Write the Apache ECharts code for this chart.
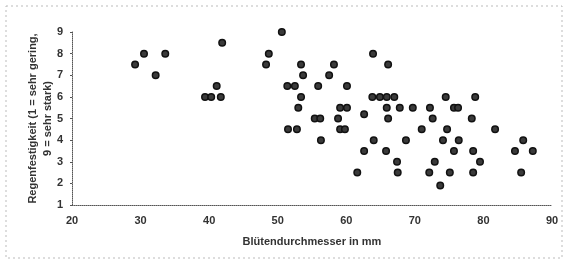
<!DOCTYPE html>
<html>
<head>
<meta charset="utf-8">
<script src="https://cdn.jsdelivr.net/npm/echarts@6/dist/echarts.min.js"></script>
<style>
  html, body { margin: 0; padding: 0; background: #fff; }
  #chart { width: 568px; height: 266px; }
</style>
</head>
<body>
<div id="chart"></div>
<script>
// Blütendurchmesser (mm) und Regenfestigkeit (1-9)
var diameters = [
    30.5, 33.6, 29.2, 32.2, 41.9, 41.1, 39.4, 40.3, 41.7,
    50.6, 48.7, 48.3, 53.4, 58.2, 53.7, 57.5, 51.4, 52.5, 55.9, 60.1,
    53.4, 53.0, 59.1, 60.1, 55.4, 56.2, 58.8, 51.5, 52.8, 59.1, 59.8, 56.3,
    63.9, 66.1, 63.8, 64.9, 65.9, 67.0, 74.5, 78.8,
    65.9, 67.8, 69.7, 72.2, 75.7, 76.3, 62.6, 66.1, 72.6, 78.3,
    71.0, 74.7, 81.7, 64.0, 68.7, 74.1, 76.4, 85.8,
    62.6, 65.8, 75.7, 78.5, 84.6, 87.2, 67.4, 72.9, 79.5,
    61.6, 67.5, 72.1, 75.1, 78.5, 85.5, 73.7
];
var ratings = [
    8, 8, 7.5, 7, 8.5, 6.5, 6, 6, 6,
    9, 8, 7.5, 7.5, 7.5, 7, 7, 6.5, 6.5, 6.5, 6.5,
    6, 5.5, 5.5, 5.5, 5, 5, 5, 4.5, 4.5, 4.5, 4.5, 4,
    8, 7.5, 6, 6, 6, 6, 6, 6,
    5.5, 5.5, 5.5, 5.5, 5.5, 5.5, 5.2, 5, 5, 5,
    4.5, 4.5, 4.5, 4, 4, 4, 4, 4,
    3.5, 3.5, 3.5, 3.5, 3.5, 3.5, 3, 3, 3,
    2.5, 2.5, 2.5, 2.5, 2.5, 2.5, 1.9
];
var xTitle = 'Blütendurchmesser in mm';
var yTitle = 'Regenfestigkeit (1 = sehr gering,\n9 = sehr stark)';

var data = diameters.map(function (d, i) { return [d, ratings[i]]; });

var chart = echarts.init(document.getElementById('chart'));

var option = {
    backgroundColor: '#fff',
    animation: false,
    textStyle: { fontFamily: 'Liberation Sans' },
    graphic: [
        {
            type: 'rect',
            shape: { x: 6, y: 6, width: 556, height: 252 },
            style: { fill: 'none', stroke: '#bbb', lineWidth: 1, lineDash: [2, 3] },
            silent: true
        }
    ],
    grid: { left: 72, right: 16, top: 32, bottom: 61 },
    xAxis: {
        type: 'value',
        min: 20,
        max: 90,
        interval: 10,
        name: xTitle,
        nameLocation: 'middle',
        nameGap: 31,
        nameTextStyle: { color: '#333', fontSize: 11, fontWeight: 'bold' },
        axisLine: { show: true, lineStyle: { color: '#555', type: 'dotted', width: 1 } },
        axisTick: { show: false },
        axisLabel: { color: '#333', fontSize: 11, fontWeight: 'bold', margin: 10 },
        splitLine: { show: false }
    },
    yAxis: {
        type: 'value',
        min: 1,
        max: 9,
        interval: 1,
        name: yTitle,
        nameLocation: 'middle',
        nameGap: 17,
        nameMoveOverlap: false,
        nameTextStyle: { color: '#333', fontSize: 11, fontWeight: 'bold', lineHeight: 15 },
        axisLine: { show: true, lineStyle: { color: '#555', type: 'dotted', width: 1 } },
        axisTick: { show: true, length: 2, lineStyle: { color: '#555' } },
        axisLabel: { color: '#333', fontSize: 11, fontWeight: 'bold', margin: 9 },
        splitLine: { show: false }
    },
    series: [
        {
            type: 'scatter',
            data: data,
            symbol: 'circle',
            symbolSize: 6.5,
            itemStyle: { color: '#3a3a3a', borderColor: '#111', borderWidth: 1.5, opacity: 1 }
        }
    ]
};
chart.setOption(option);
</script>
</body>
</html>
